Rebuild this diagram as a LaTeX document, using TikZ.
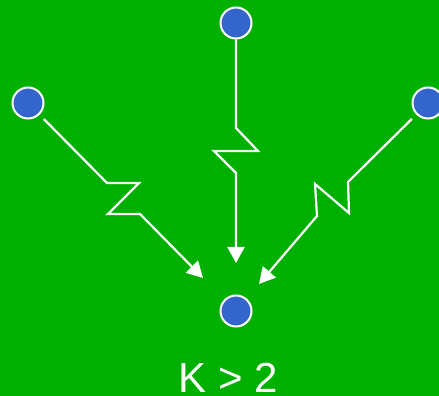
\documentclass[tikz,border=0pt]{standalone}
\usepackage{fontspec}
\setmainfont{Liberation Sans}
\usetikzlibrary{arrows.meta}
\definecolor{bggreen}{RGB}{0,176,0}
\definecolor{nodeblue}{RGB}{51,102,204}
\tikzset{
  dot/.style={circle, fill=nodeblue, draw=white, line width=2pt, minimum size=31pt, inner sep=0pt},
  link/.style={draw=white, line width=2.2pt, line join=miter, shorten <=6pt, -{Triangle[length=16pt,width=17pt]}},
}
\begin{document}
\begin{tikzpicture}[x=1pt,y=1pt]
\useasboundingbox (0,0) rectangle (439,396);
\clip (0,0) rectangle (439,396);
\fill[bggreen] (0,0) rectangle (439,396);
% nodes (y = 396 - image y)
\node[dot] (L) at (28,293) {};
\node[dot] (T) at (236,373) {};
\node[dot] (R) at (428,293) {};
\node[dot] (B) at (236,85) {};
\node[font=\fontsize{42}{50}\selectfont, text=white, anchor=base, inner sep=0pt] (K) at (228.5,3.5) {K > 2};
% bend points
\coordinate (l1) at (107,213);
\coordinate (l2) at (139,213);
\coordinate (l3) at (108,182);
\coordinate (l4) at (140,182);
\coordinate (lt) at (203,118);
\coordinate (t1) at (236,268);
\coordinate (t2) at (258,245);
\coordinate (t3) at (214,245);
\coordinate (t4) at (236,223);
\coordinate (tt) at (236,133);
\coordinate (r1) at (348,214);
\coordinate (r2) at (349,183);
\coordinate (r3) at (315,212);
\coordinate (r4) at (317,180);
\coordinate (rt) at (259,112);
\draw[link] (L) -- (l1) -- (l2) -- (l3) -- (l4) -- (lt);
\draw[link, shorten <=0pt] (T) -- (t1) -- (t2) -- (t3) -- (t4) -- (tt);
\draw[link] (R) -- (r1) -- (r2) -- (r3) -- (r4) -- (rt);
\end{tikzpicture}
\end{document}
